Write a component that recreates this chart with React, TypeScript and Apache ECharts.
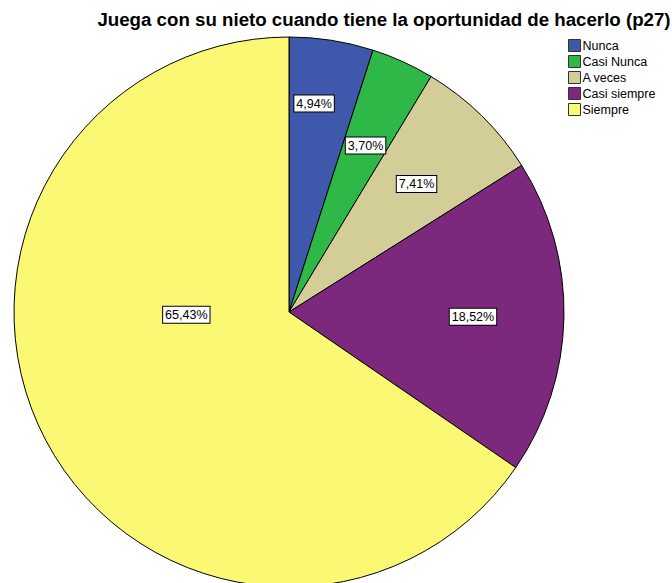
import React, { useEffect, useRef } from "react";
import * as echarts from "echarts";

const categories = ["Nunca", "Casi Nunca", "A veces", "Casi siempre", "Siempre"];
const values = [4.94, 3.7, 7.41, 18.52, 65.43];
const colors = ["#3E58AC", "#2EB848", "#D3CE97", "#7C287D", "#FBF873"];
// radial position (px) of each slice's label, as SPSS places them
const labelRadius = [211, 182, 182, 184, 104];
// small nudges of the labels (SPSS does not centre them on the mid-angle)
const labelShift = [
  [-8, 3],
  [0, 2],
  [-2, 4],
  [-3, 1],
  [-8, -47],
];

const FONT = "'Liberation Sans', Arial, sans-serif";
const CX = 289;
const CY = 312;
const R = 275;

export default function App() {
  const ref = useRef<HTMLDivElement>(null);
  useEffect(() => {
    const chart = echarts.init(ref.current!, null, { renderer: "svg" });
    const fmt = (v: number) => v.toFixed(2).replace(".", ",") + "%";
    const uniqueRadii = Array.from(new Set(labelRadius));
    const labelSeries = uniqueRadii.map((lr) => ({
      type: "pie" as const,
      silent: true,
      startAngle: 90,
      clockwise: true,
      center: [CX, CY],
      radius: [lr - 1, lr + 1],
      legendHoverLink: false,
      z: 5,
      itemStyle: { color: "transparent", borderWidth: 0 },
      labelLine: { show: false },
      labelLayout: (p: any) => ({ dx: labelShift[p.dataIndex][0], dy: labelShift[p.dataIndex][1] }),
      data: categories.map((c, i) => ({
        name: c,
        value: values[i],
        label: {
          show: labelRadius[i] === lr,
          position: "inside",
          formatter: () => fmt(values[i]),
          color: "#000",
          fontFamily: FONT,
          fontSize: 12.5,
          backgroundColor: "#fff",
          borderColor: "#000",
          borderWidth: 1,
          padding: [2, 2, 1, 2],
        },
      })),
    }));
    chart.setOption({
      animation: false,
      title: {
        text: "Juega con su nieto cuando tiene la oportunidad de hacerlo (p27)",
        left: 379,
        textAlign: "center",
        top: 5,
        textStyle: { fontFamily: FONT, fontSize: 18.7, fontWeight: "bold", color: "#000" },
      },
      legend: {
        orient: "vertical",
        left: 563,
        top: 34,
        itemWidth: 12,
        itemHeight: 12,
        itemGap: 3,
        icon: "rect",
        selectedMode: false,
        data: categories,
        itemStyle: { borderColor: "#333", borderWidth: 1 },
        textStyle: {
          fontFamily: FONT,
          fontSize: 12.5,
          lineHeight: 12,
          color: "#000",
          padding: [0, 0, 0, -3],
        },
      },
      color: colors,
      series: [
        {
          type: "pie",
          silent: true,
          startAngle: 90,
          clockwise: true,
          center: [CX, CY],
          radius: [0, R],
          itemStyle: { borderColor: "#000", borderWidth: 1 },
          label: { show: false },
          labelLine: { show: false },
          data: categories.map((c, i) => ({ name: c, value: values[i] })),
        },
        ...labelSeries,
      ],
    });
    return () => chart.dispose();
  }, []);
  return (
    <div
      ref={ref}
      style={{ position: "absolute", left: 0, top: 0, width: 672, height: 583 }}
    />
  );
}
